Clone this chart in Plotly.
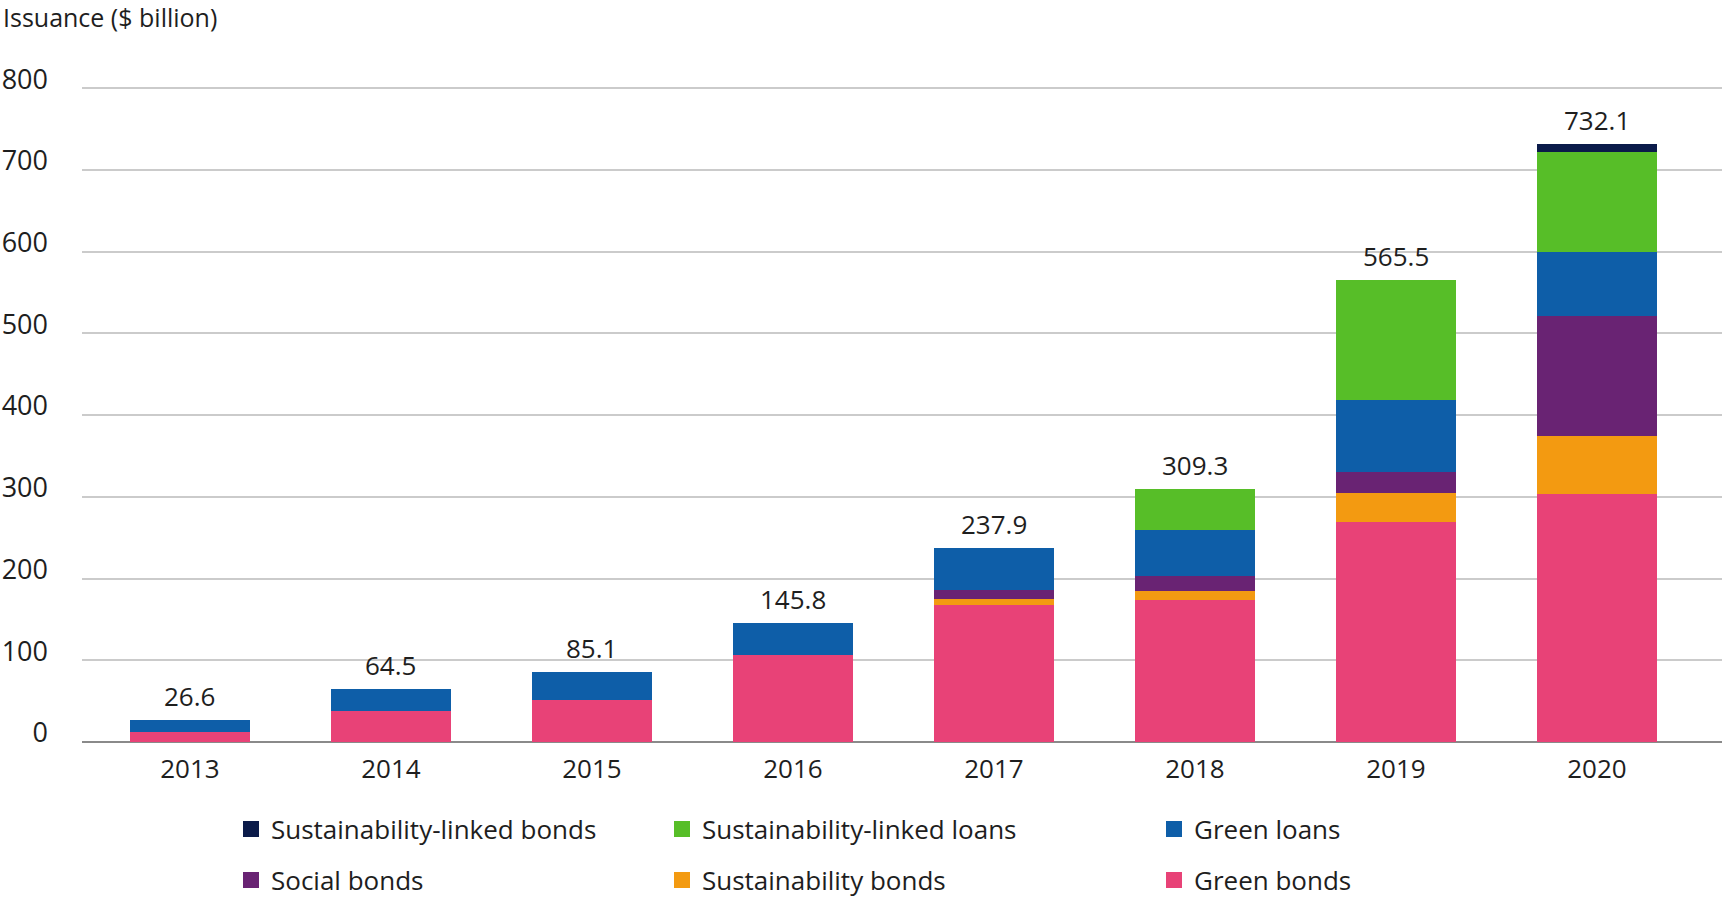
import plotly.graph_objects as go

years = ["2013", "2014", "2015", "2016", "2017", "2018", "2019", "2020"]
totals = [26.6, 64.5, 85.1, 145.8, 237.9, 309.3, 565.5, 732.1]

green_bonds = [12.8, 37.5, 51.0, 106.0, 168.0, 174.0, 269.6, 303.8]
sustainability_bonds = [0, 0, 0, 0, 6.5, 11.3, 35.0, 71.0]
social_bonds = [0, 0, 0, 0, 11.5, 17.5, 25.2, 146.5]
green_loans = [13.8, 27.0, 34.1, 39.8, 51.9, 56.1, 89.0, 78.0]
sl_loans = [0, 0, 0, 0, 0, 50.4, 146.7, 122.8]
sl_bonds = [0, 0, 0, 0, 0, 0, 0, 10.0]

series = [
    ("Green bonds", green_bonds, "#E84277", "legend6"),
    ("Sustainability bonds", sustainability_bonds, "#F39A11", "legend5"),
    ("Social bonds", social_bonds, "#692373", "legend4"),
    ("Green loans", green_loans, "#0E5EA8", "legend3"),
    ("Sustainability-linked loans", sl_loans, "#57BE28", "legend2"),
    ("Sustainability-linked bonds", sl_bonds, "#0B1B4A", "legend"),
]

FONT = "Open Sans, Noto Sans, sans-serif"
TXT = "#1e1e1e"

fig = go.Figure()
for name, vals, color, lg in series:
    fig.add_trace(go.Bar(
        x=years, y=vals, name=name, marker=dict(color=color, line=dict(width=0)),
        width=0.6, showlegend=False, hoverinfo="x+y+name",
    ))
    # legend entry (square swatch)
    fig.add_trace(go.Scatter(
        x=[None], y=[None], mode="markers", name=name, legend=lg,
        marker=dict(symbol="square", size=20, color=color, line=dict(width=0)),
        showlegend=True, hoverinfo="skip",
    ))

for i, t in enumerate(totals):
    fig.add_annotation(x=i, y=t, text=f"{t:.1f}", showarrow=False,
                       xref="x", yref="y",
                       yanchor="middle", yshift=24,
                       font=dict(family=FONT, size=26, color=TXT))

W, H = 1722, 899
L, R, T, B = 82, 0, 84, 157
pw, ph = W - L - R, H - T - B

def px_x(p):
    return (p - L) / pw

def px_y(p):
    return (H - B - p) / ph

legend_pos = {
    "legend": (231, 829), "legend2": (662, 829), "legend3": (1154, 829),
    "legend4": (231, 880), "legend5": (662, 880), "legend6": (1154, 880),
}
legend_kw = {}
for k, (lx, ly) in legend_pos.items():
    legend_kw[k] = dict(x=px_x(lx), y=px_y(ly), xanchor="left", yanchor="middle",
                        orientation="v", bgcolor="rgba(0,0,0,0)", itemsizing="trace",
                        font=dict(family=FONT, size=26, color=TXT))

fig.update_layout(
    width=W, height=H,
    barmode="stack",
    plot_bgcolor="white", paper_bgcolor="white",
    margin=dict(l=L, r=R, t=T, b=B, autoexpand=False),
    font=dict(family=FONT, size=26, color=TXT),
    title=dict(text="Issuance ($ billion)", x=0.0, xref="container", xanchor="left",
               y=1 - 18 / H, yref="container", yanchor="middle",
               pad=dict(l=3, r=0, t=0, b=0),
               font=dict(family=FONT, size=25, color=TXT)),
    xaxis=dict(type="category", range=[-0.537, 7.622], showgrid=False, showline=False,
               ticks="", tickfont=dict(family=FONT, size=26, color=TXT), ticklabelstandoff=9),
    yaxis=dict(range=[0, 805], dtick=100, tick0=0, showgrid=True, gridcolor="#cbcbcb",
               gridwidth=1.5, zeroline=True, zerolinecolor="#8a8a8a", zerolinewidth=2,
               showline=False, ticks="", ticklabelstandoff=33, ticklabelshift=-9,
               tickfont=dict(family=FONT, size=27, color=TXT)),
    showlegend=True,
    **legend_kw,
)

fig.write_html("out.html", config={"displayModeBar": False},
               post_script="document.body.style.margin='0';document.body.style.overflow='hidden';")
